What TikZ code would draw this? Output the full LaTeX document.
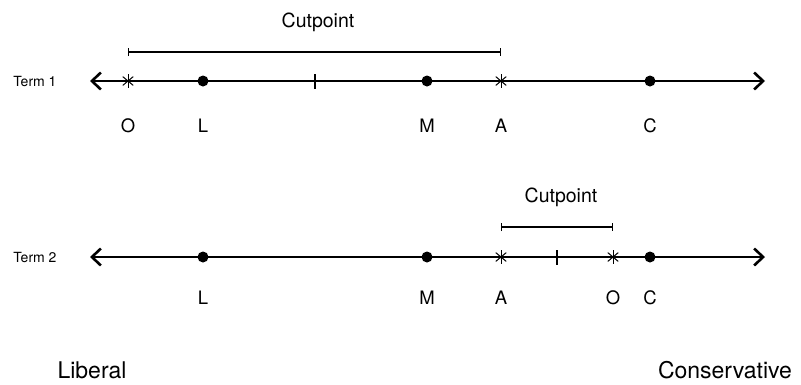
\documentclass[tikz,border=0pt]{standalone}
\usepackage{fontspec}
\setmainfont{TeX Gyre Heros}
\usepackage{tikz}
\usetikzlibrary{arrows.meta,calc,positioning}
\tikzstyle{end} = [coordinate]
\tikzstyle{axis} = [draw, line width=2.6pt, {Straight Barb[length=9pt,width=17pt,line width=2.6pt]}-{Straight Barb[length=9pt,width=17pt,line width=2.6pt]}]
\tikzstyle{dot} = [circle, fill, inner sep=0pt, minimum size=11pt]
\tikzstyle{starpt} = [circle, inner sep=0pt, minimum size=15pt, path picture={
	\foreach \a in {40,90,140}
		\draw [line width=1pt, shift={(path picture bounding box.center)}] (\a:6.8pt) -- (\a+180:6.8pt);}]
\tikzstyle{tickpt} = [rectangle, fill, inner sep=0pt, minimum width=1.5pt, minimum height=15pt]
\tikzstyle{lbl} = [font=\fontsize{18.5}{20}\selectfont]
\tikzstyle{term} = [font=\fontsize{14}{16}\selectfont]
\tikzstyle{cuttext} = [font=\fontsize{19.5}{22}\selectfont]
\tikzstyle{side} = [font=\fontsize{23}{26}\selectfont]
\tikzstyle{bracket} = [draw, line width=1.2pt, {Bar[width=8pt]}-{Bar[width=8pt]}]

\begin{document}
\begin{tikzpicture}[x=1pt, y=-1pt, auto, node distance=45pt]
	\useasboundingbox (0,0) rectangle (801,384);
	% Term 1
	\node [term] (term1) at (35,81) {Term 1};
	\node [end] (lft1) at (90,81) {};
	\node [end] (rgt1) at (765,81) {};
	\path [axis] (lft1) -- (rgt1);
	\node [starpt] (o1) at (128,81) {};
	\node [dot] (l1) at (203,81) {};
	\node [tickpt] (cut1) at (315,81) {};
	\node [dot] (m1) at (427,81) {};
	\node [starpt] (a1) at (501,81) {};
	\node [dot] (c1) at (650,81) {};
	\node [lbl, below of=o1] (o1lab) {O};
	\node [lbl, below of=l1] (l1lab) {L};
	\node [lbl, below of=m1] (m1lab) {M};
	\node [lbl, below of=a1] (a1lab) {A};
	\node [lbl, below of=c1] (c1lab) {C};
	\node [end, above of=o1, node distance=29pt] (cl1) {};
	\node [end, above of=a1, node distance=29pt] (cr1) {};
	\path [bracket] (cl1) -- (cr1);
	\node [cuttext] (cuttext1) at (318,22) {Cutpoint};

	% Term 2
	\node [term] (term2) at (35,257) {Term 2};
	\node [end] (lft2) at (90,257) {};
	\node [end] (rgt2) at (765,257) {};
	\path [axis] (lft2) -- (rgt2);
	\node [dot] (l2) at (203,257) {};
	\node [dot] (m2) at (427,257) {};
	\node [starpt] (a2) at (501,257) {};
	\node [tickpt] (cut2) at (557,257) {};
	\node [starpt] (o2) at (613,257) {};
	\node [dot] (c2) at (650,257) {};
	\node [lbl, below of=l2, node distance=41pt] (l2lab) {L};
	\node [lbl, below of=m2, node distance=41pt] (m2lab) {M};
	\node [lbl, below of=a2, node distance=41pt] (a2lab) {A};
	\node [lbl, below of=o2, node distance=41pt] (o2lab) {O};
	\node [lbl, below of=c2, node distance=41pt] (c2lab) {C};
	\node [end, above of=a2, node distance=30pt] (cl2) {};
	\node [end, above of=o2, node distance=30pt] (cr2) {};
	\path [bracket] (cl2) -- (cr2);
	\node [cuttext] (cuttext2) at (561,197) {Cutpoint};

	% ends of the scale
	\node [side] (liberal) at (92,370) {Liberal};
	\node [side] (conservative) at (725,370) {Conservative};
\end{tikzpicture}
\end{document}
